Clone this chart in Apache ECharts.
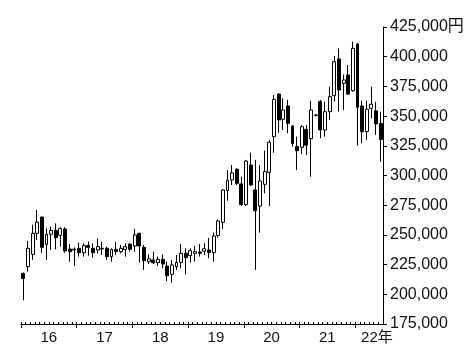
<!DOCTYPE html>
<html>
<head>
<meta charset="utf-8">
<style>
  html, body { margin: 0; padding: 0; background: #fff; }
  #chart { width: 472px; height: 362px; }
</style>
<script src="https://cdn.jsdelivr.net/npm/echarts@6.0.0/dist/echarts.min.js"></script>
</head>
<body>
<div id="chart"></div>
<script>
// Monthly categories: Jan 2016 .. Jun 2022
var months = [];
for (var y = 2016; y <= 2022; y++) {
  for (var m = 1; m <= 12; m++) {
    if (y === 2022 && m > 6) break;
    months.push(y + '-' + (m < 10 ? '0' + m : m));
  }
}

// OHLC values (yen)
var opens = [
  217700, 223300, 233600, 251300, 265000, 242000, 250500, 253800, 249600, 255000, 238100, 237300,
  238700, 235000, 241000, 238700, 237300, 238200, 238700, 231700, 237800, 235900, 237800, 242300,
  240700, 251300, 239500, 227500, 228900, 226600, 229400, 223800, 216800, 223300, 226900, 234500,
  232500, 234500, 235600, 236300, 237300, 235100, 249500, 260600, 287300, 296200, 305300, 292900,
  275500, 308800, 287800, 274300, 292600, 302700, 332700, 368600, 347300, 358500, 341700, 324300,
  323700, 338900, 331000, 350500, 362200, 338300, 353700, 367200, 398100, 377600, 384600, 371400,
  410700, 358500, 337000, 356500, 354400, 343900
];
var closes = [
  213200, 238700, 251300, 260600, 239500, 250500, 253800, 247700, 255500, 236500, 235900, 238000,
  235000, 241000, 239500, 235000, 240100, 238800, 231700, 237800, 235900, 238700, 240100, 237800,
  249900, 240700, 228300, 229800, 226600, 229400, 225500, 215700, 224700, 226900, 234500, 230800,
  236700, 235900, 234500, 238400, 235300, 249100, 261700, 287800, 296000, 302200, 293400, 275500,
  312200, 292000, 270400, 295400, 303200, 328000, 364100, 346700, 355100, 343900, 327000, 320900,
  341100, 325500, 355100, 351000, 338300, 353700, 366400, 395800, 372000, 380400, 368500, 407000,
  357400, 336900, 355800, 360000, 343400, 330400
];
var lows = [
  194900, 219000, 229000, 245700, 235000, 229000, 237300, 237800, 240100, 235000, 227500, 223800,
  231700, 231700, 232500, 230800, 234500, 233100, 228900, 227500, 233100, 234500, 231700, 235900,
  235900, 226600, 220500, 225500, 225500, 223800, 221900, 211000, 209800, 220500, 221900, 216800,
  226600, 227500, 231700, 233100, 230300, 227500, 247800, 255000, 278800, 292000, 292000, 274300,
  274300, 291200, 220500, 251900, 285000, 274300, 319200, 336000, 338300, 335500, 324300, 304600,
  318100, 317300, 299000, 349500, 331300, 332700, 346700, 362200, 353700, 355000, 367800, 370600,
  325300, 327100, 329900, 348100, 334000, 311700
];
var highs = [
  218200, 245000, 258500, 271000, 265500, 255500, 257000, 259700, 256400, 256400, 242300, 239500,
  243500, 242900, 244500, 242900, 247100, 244300, 240100, 238700, 244300, 241500, 242900, 242900,
  255000, 251900, 241500, 233600, 235900, 231700, 233600, 227500, 228900, 233100, 242300, 238700,
  238700, 240700, 242300, 242900, 247500, 251900, 263100, 288600, 304600, 308800, 306000, 299000,
  313100, 319200, 313100, 308800, 320900, 329900, 367800, 369000, 365000, 363600, 342500, 332700,
  342500, 342500, 363000, 352000, 363600, 362200, 374800, 400600, 407000, 385000, 393000, 412600,
  411500, 363000, 363000, 374800, 362000, 353700
];

// Year tick labels
var yearLabels = ['16', '17', '18', '19', '20', '21', '22年'];

var candleData = months.map(function (d, i) {
  return [opens[i], closes[i], lows[i], highs[i]];
});

// positions on the month-index axis (layout, computed)
var nMonths = months.length;
var yearStarts = [], labelPos = [];
for (var k = 0; k < yearLabels.length; k++) {
  var s = k * 12, e = Math.min(s + 12, nMonths);
  yearStarts.push(s);
  labelPos.push((s + e) / 2);
}
labelPos[labelPos.length - 1] += 1.7; // last label nudged as in the reference

var FONT = '"Liberation Sans", Arial, "Noto Sans CJK JP", sans-serif';

var chart = echarts.init(document.getElementById('chart'), null, { renderer: 'canvas' });
chart.setOption({
  animation: false,
  backgroundColor: '#fff',
  grid: { left: 21, right: 89, top: 27, bottom: 38 },
  xAxis: [
    {
      type: 'category',
      data: months,
      boundaryGap: true,
      axisLine: { show: true, onZero: false, lineStyle: { color: '#000', width: 1 } },
      axisTick: { show: true, interval: 0, inside: true, length: 2, lineStyle: { color: '#000', width: 1 } },
      axisLabel: { show: false },
      splitLine: { show: false }
    },
    {
      type: 'value',
      min: 0,
      max: nMonths,
      position: 'bottom',
      axisLine: { show: false, onZero: false },
      axisTick: { show: true, customValues: yearStarts, length: 4, lineStyle: { color: '#000', width: 1 } },
      axisLabel: {
        show: true,
        customValues: labelPos,
        margin: 6,
        fontSize: 15,
        color: '#111',
        fontFamily: FONT,
        formatter: function (v) {
          var idx = labelPos.indexOf(v);
          return idx >= 0 ? yearLabels[idx] : '';
        }
      },
      splitLine: { show: false }
    }
  ],
  yAxis: {
    type: 'value',
    position: 'right',
    min: 175000,
    max: 425000,
    interval: 25000,
    axisLine: { show: true, onZero: false, lineStyle: { color: '#000', width: 1 } },
    axisTick: { show: true, length: 4, lineStyle: { color: '#000', width: 1 } },
    axisLabel: {
      margin: 7,
      fontSize: 16,
      color: '#111',
      fontFamily: FONT,
      formatter: function (v) {
        var s = v.toString().replace(/\B(?=(\d{3})+(?!\d))/g, ',');
        return v === 425000 ? s + '円' : s;
      }
    },
    splitLine: { show: false }
  },
  series: [{
    type: 'candlestick',
    xAxisIndex: 0,
    data: candleData,
    barWidth: 3.4,
    itemStyle: {
      color: '#ffffff',
      color0: '#000000',
      borderColor: '#000000',
      borderColor0: '#000000',
      borderWidth: 1
    },
    emphasis: { disabled: true }
  }]
});
</script>
</body>
</html>
